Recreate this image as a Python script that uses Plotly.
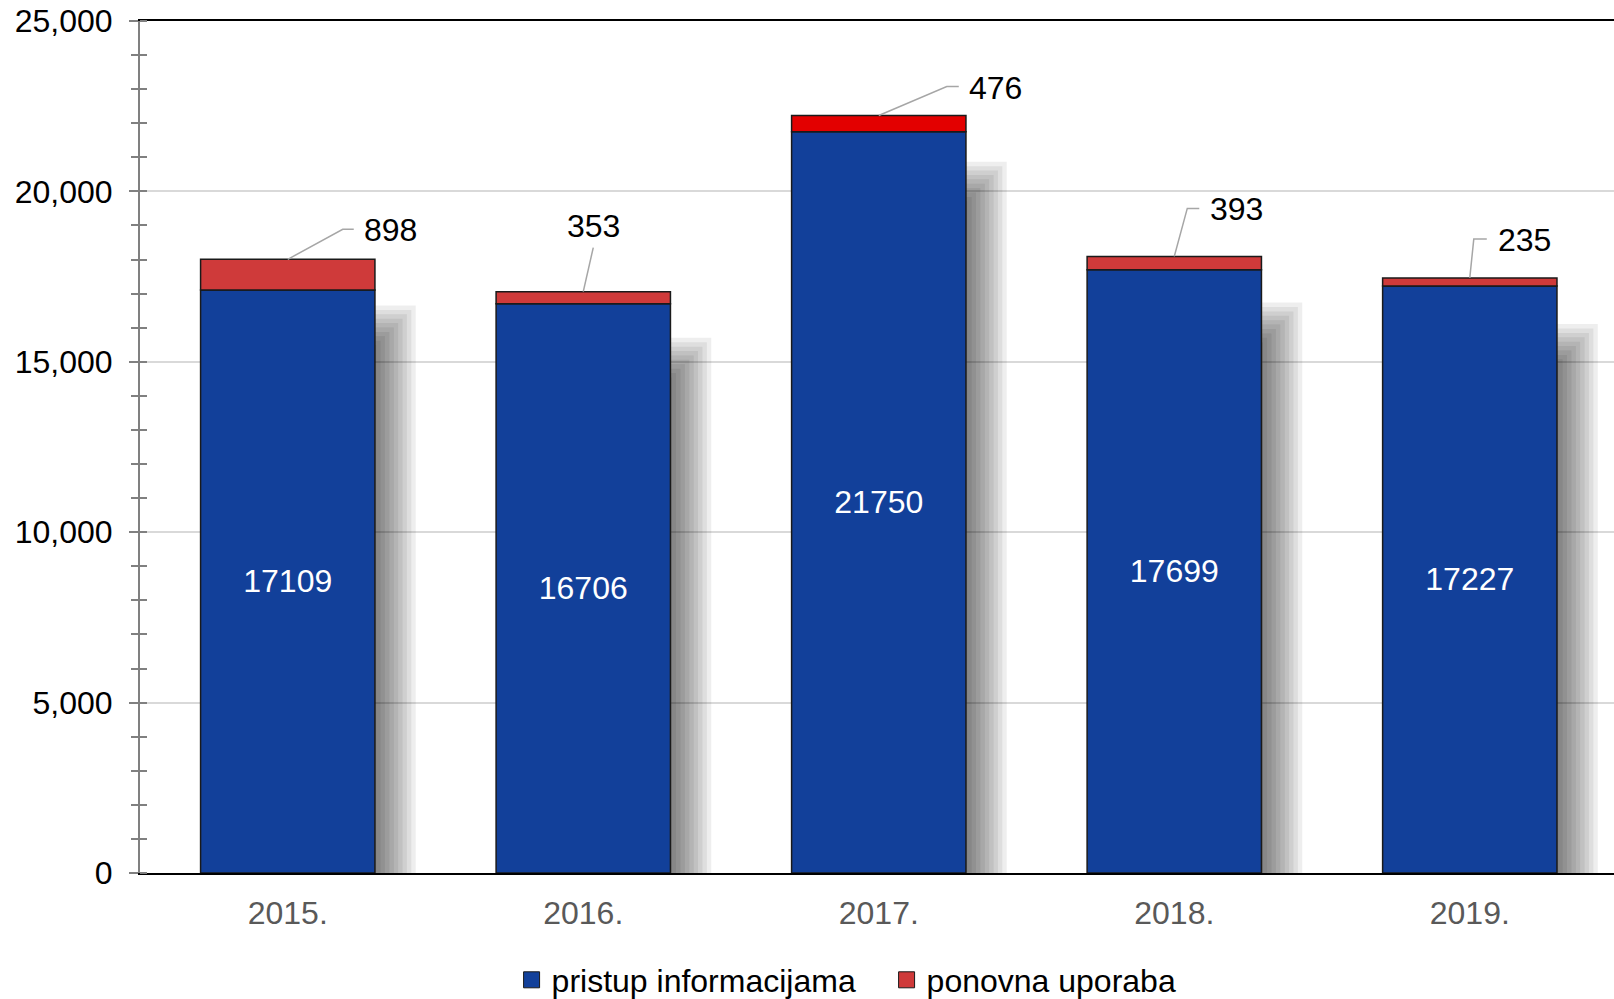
import plotly.graph_objects as go

# ---- data ----
categories = ["2015.", "2016.", "2017.", "2018.", "2019."]
pristup = [17109, 16706, 21750, 17699, 17227]
ponovna = [898, 353, 476, 393, 235]
ytick_vals = [0, 5000, 10000, 15000, 20000, 25000]
ytick_text = ["0", "5,000", "10,000", "15,000", "20,000", "25,000"]

# ---- style / layout ----
W, H = 1614, 999
ML, MR, MT, MB = 140, 0, 21, 126
YMAX = 25000
X_END = len(categories) - 0.512
FONT = "Liberation Sans, Arial, sans-serif"
FS = 32
BLUE = "#12409A"
RED = "#CF3A3A"
RED_2017 = "#E30000"
red_colors = [RED, RED, RED_2017, RED, RED]
BAR_W = 0.59

plot_w = W - ML - MR
plot_h = H - MT - MB
band = plot_w / (X_END + 0.5)
upp = YMAX / plot_h  # data units per pixel

totals = [a + b for a, b in zip(pristup, ponovna)]

fig = go.Figure()

# soft shadow to the right of each bar (layered translucent bars)
N = 10
for i in range(N):
    e = -22 + 44 * (i + 0.5) / N
    right_px = 21 + e
    down_px = 66 - e
    fig.add_trace(go.Bar(
        x=categories,
        y=[max(t - down_px * upp, 0) for t in totals],
        offset=0,
        width=BAR_W / 2 + right_px / band,
        marker=dict(color="rgba(0,0,0,0.068)", line=dict(width=0)),
        hoverinfo="skip", showlegend=False,
    ))

fig.add_trace(go.Bar(
    x=categories, y=pristup, width=BAR_W,
    marker=dict(color=BLUE, line=dict(color="#1a1a1a", width=1.5)),
    text=[str(v) for v in pristup], textposition="inside",
    insidetextanchor="middle", constraintext="none",
    textfont=dict(color="white", size=FS, family=FONT),
    name="pristup informacijama", showlegend=False,
))
fig.add_trace(go.Bar(
    x=categories, y=ponovna, base=pristup, width=BAR_W,
    marker=dict(color=red_colors, line=dict(color="#1a1a1a", width=1.5)),
    name="ponovna uporaba", showlegend=False,
))

# legend entries
fig.add_trace(go.Scatter(x=[categories[0]], y=[None], mode="markers",
                         marker=dict(symbol="square", size=16, color=BLUE,
                                     line=dict(color="#1a1a1a", width=1)),
                         name="pristup informacijama"))
fig.add_trace(go.Scatter(x=[categories[0]], y=[None], mode="markers",
                         marker=dict(symbol="square", size=16, color=RED,
                                     line=dict(color="#1a1a1a", width=1)),
                         name="ponovna uporaba"))
# dummy for the secondary axis (crossing minor ticks)
fig.add_trace(go.Scatter(x=[categories[0]], y=[None], yaxis="y2",
                         mode="markers", showlegend=False, hoverinfo="skip"))

# leader lines and labels: (elbow dx, elbow dy, end dx, end dy, text dx, text dy, anchor)
leaders = [
    (55, 30, 66, 30, 74, 29, "left"),
    (10, 44, 10, 44, 10, 66, "center"),
    (68, 29, 80, 29, 88, 28, "left"),
    (13, 48, 25, 48, 34, 47, "left"),
    (4, 39, 17, 39, 26, 38, "left"),
]
shapes = []
annotations = []
for idx, (t, v, (ex, ey, nx, ny, tx, ty, anc)) in enumerate(zip(totals, ponovna, leaders)):
    shapes.append(dict(
        type="path", xref="x", yref="y", xsizemode="pixel", ysizemode="pixel",
        xanchor=idx, yanchor=t,
        path=f"M0,0 L{ex},{ey} L{nx},{ny}",
        line=dict(color="#a6a6a6", width=1.5),
    ))
    annotations.append(dict(
        x=idx, y=t, xref="x", yref="y", text=str(v), showarrow=False,
        xshift=tx, yshift=ty, xanchor=anc, yanchor="middle",
        font=dict(size=FS, color="black", family=FONT),
    ))

fig.update_layout(
    width=W, height=H,
    margin=dict(l=ML, r=MR, t=MT, b=MB, autoexpand=False),
    paper_bgcolor="white", plot_bgcolor="white",
    barmode="overlay",
    font=dict(family=FONT, size=FS, color="black"),
    shapes=shapes, annotations=annotations,
    legend=dict(orientation="h", x=0.5065, xanchor="center", y=-0.1256,
                yanchor="middle", font=dict(size=FS, color="black"),
                bgcolor="rgba(0,0,0,0)", entrywidth=330),
    xaxis=dict(type="category", categoryarray=categories, categoryorder="array",
               range=[-0.5, X_END], autorange=False,
               showline=True, linecolor="black", linewidth=2,
               mirror=True, ticks="", tickfont=dict(size=FS, color="#595959"),
               ticklabelstandoff=11, showgrid=False, zeroline=False),
    yaxis=dict(range=[0, YMAX], autorange=False, tickvals=ytick_vals, ticktext=ytick_text,
               showgrid=True, gridcolor="#d9d9d9", gridwidth=1.5,
               showline=True, linecolor="#808080", linewidth=2,
               ticks="outside", ticklen=9, tickcolor="#808080", tickwidth=2,
               minor=dict(dtick=1000, ticks="outside", ticklen=7,
                          tickcolor="#808080", tickwidth=1.5, showgrid=False),
               zeroline=False, tickfont=dict(size=FS, color="black"),
               ticklabelstandoff=10),
    yaxis2=dict(range=[0, YMAX], autorange=False, overlaying="y", side="left", anchor="x",
                showgrid=False, showline=False, showticklabels=False,
                ticks="", zeroline=False, tickvals=ytick_vals,
                minor=dict(dtick=1000, ticks="inside", ticklen=7,
                           tickcolor="#808080", tickwidth=1.5, showgrid=False)),
)

fig.write_html(
    "out.html",
    config={"displayModeBar": False},
    post_script="document.body.style.margin='0';document.body.style.overflow='hidden';",
)
